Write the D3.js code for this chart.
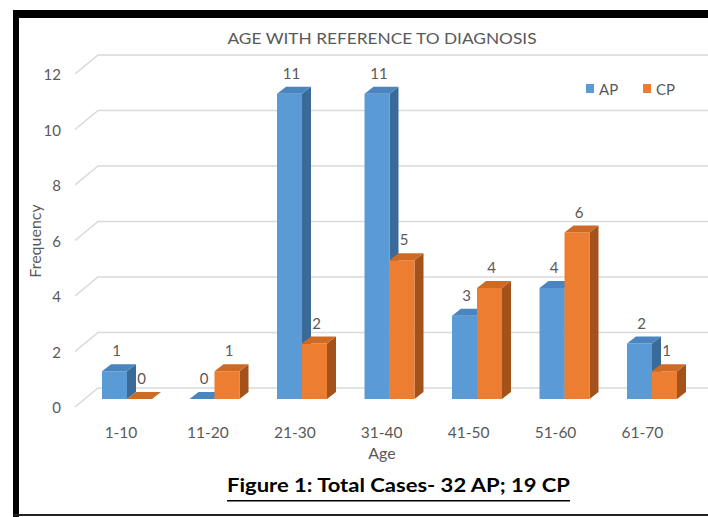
<!DOCTYPE html>
<html>
<head>
<meta charset="utf-8">
<script src="https://cdn.jsdelivr.net/npm/d3@7"></script>
<style>
  html, body { margin: 0; padding: 0; background: #fff; }
  svg { display: block; }
</style>
</head>
<body>
<svg id="chart" width="708" height="517"></svg>
<script>
// Age groups and case counts per diagnosis
const categories = ["1-10", "11-20", "21-30", "31-40", "41-50", "51-60", "61-70"];
const apValues = [1, 0, 11, 11, 3, 4, 2];
const cpValues = [0, 1, 2, 5, 4, 6, 1];
const seriesNames = ["AP", "CP"];
const yTicks = [0, 2, 4, 6, 8, 10, 12];

const W = 708, H = 517;
const FONT = "Lato, 'Open Sans', sans-serif";
const GRAY = "#595959";

const palette = {
  AP: { front: "#5B9BD5", top: "#4A85C0", side: "#3A6A98" },
  CP: { front: "#ED7D31", top: "#CF6A24", side: "#A4521B" }
};

const svg = d3.select("#chart");

// Frame around the figure
svg.append("rect").attr("x", 0).attr("y", 0).attr("width", W).attr("height", H).attr("fill", "#fff");
svg.append("rect").attr("x", 13).attr("y", 10).attr("width", W - 13).attr("height", 8).attr("fill", "#000");
svg.append("rect").attr("x", 13).attr("y", 10).attr("width", 6).attr("height", H - 10).attr("fill", "#000");
svg.append("rect").attr("x", 13).attr("y", 514).attr("width", W - 13).attr("height", 2).attr("fill", "#222");

// Scales
const x = d3.scaleBand().domain(categories).range([83.25, 695.75])
  .paddingInner(0.4286).paddingOuter(0.2143);
const xs = d3.scaleBand().domain(seriesNames).range([0, x.bandwidth()]);
const y = d3.scaleLinear().domain([0, 12]).range([399, 399 - 12 * 27.75]);

// 3D depth offset of the bars and back wall
const DX = 9, DY = -7, WALL = 11;

// Gridlines: short diagonal on the side wall, then across the back wall
const grid = svg.append("g");
yTicks.forEach(t => {
  const yb = y(t) - WALL;
  grid.append("path")
    .attr("d", `M75,${yb + 19}L98,${yb}L${W},${yb}`)
    .attr("fill", "none").attr("stroke", "#d9d9d9").attr("stroke-width", 1.5);
});

// Y tick labels
svg.append("g").selectAll("text").data(yTicks).join("text")
  .attr("x", 61).attr("y", d => y(d) + 8)
  .attr("text-anchor", "end").attr("dominant-baseline", "central")
  .attr("font-family", FONT).attr("font-size", 15).attr("fill", GRAY)
  .text(d => d);

// Bars
const rows = categories.map((c, i) => ({ cat: c, AP: apValues[i], CP: cpValues[i] }));
const barsG = svg.append("g");
rows.forEach(r => {
  seriesNames.forEach(s => {
    const v = r[s];
    const x0 = x(r.cat) + xs(s);
    const w = xs.bandwidth();
    const yt = y(v), yb = y(0);
    const col = palette[s];
    const g = barsG.append("g");
    // side face
    g.append("path")
      .attr("d", `M${x0 + w},${yt}L${x0 + w + DX},${yt + DY}L${x0 + w + DX},${yb + DY}L${x0 + w},${yb}Z`)
      .attr("fill", col.side);
    // front face
    g.append("rect").attr("x", x0).attr("y", yt).attr("width", w).attr("height", yb - yt)
      .attr("fill", col.front);
    // top face
    g.append("path")
      .attr("d", `M${x0},${yt}L${x0 + DX},${yt + DY}L${x0 + w + DX},${yt + DY}L${x0 + w},${yt}Z`)
      .attr("fill", col.top);
  });
});

// Value labels
const labelsG = svg.append("g");
rows.forEach(r => {
  seriesNames.forEach(s => {
    const v = r[s];
    const cx = x(r.cat) + xs(s) + xs.bandwidth() / 2 + 2;
    labelsG.append("text")
      .attr("x", cx).attr("y", y(v) - 21)
      .attr("text-anchor", "middle").attr("dominant-baseline", "central")
      .attr("font-family", FONT).attr("font-size", 15).attr("fill", GRAY)
      .text(v);
  });
});

// Category labels along the floor
svg.append("g").selectAll("text").data(categories).join("text")
  .attr("x", (d, i) => x(d) + x.bandwidth() / 2 - 6 - i * 0.6)
  .attr("y", 432)
  .attr("text-anchor", "middle").attr("dominant-baseline", "central")
  .attr("font-family", FONT).attr("font-size", 15.5).attr("fill", GRAY)
  .text(d => d);

// Axis titles
svg.append("text").attr("x", 382).attr("y", 452)
  .attr("text-anchor", "middle").attr("dominant-baseline", "central")
  .attr("font-family", FONT).attr("font-size", 16).attr("fill", GRAY)
  .text("Age");
svg.append("text")
  .attr("transform", "translate(34,241) rotate(-90)")
  .attr("text-anchor", "middle").attr("dominant-baseline", "central")
  .attr("font-family", FONT).attr("font-size", 16).attr("fill", GRAY)
  .text("Frequency");

// Chart title
svg.append("text").attr("x", 382).attr("y", 38)
  .attr("text-anchor", "middle").attr("dominant-baseline", "central")
  .attr("font-family", FONT).attr("font-size", 15.5).attr("fill", GRAY)
  .attr("textLength", 309).attr("lengthAdjust", "spacingAndGlyphs")
  .text("AGE WITH REFERENCE TO DIAGNOSIS");

// Legend
const legendX = { AP: 586, CP: 643 };
seriesNames.forEach(s => {
  svg.append("rect").attr("x", legendX[s]).attr("y", 84).attr("width", 8).attr("height", 9)
    .attr("fill", palette[s].front);
  svg.append("text").attr("x", legendX[s] + 13).attr("y", 89)
    .attr("dominant-baseline", "central")
    .attr("font-family", FONT).attr("font-size", 15).attr("fill", GRAY)
    .text(s);
});

// Figure caption
svg.append("text").attr("x", 227).attr("y", 492)
  .attr("font-family", FONT).attr("font-size", 18).attr("font-weight", "bold").attr("fill", "#000")
  .attr("textLength", 343).attr("lengthAdjust", "spacingAndGlyphs")
  .text("Figure 1: Total Cases- 32 AP; 19 CP");
svg.append("rect").attr("x", 227).attr("y", 500).attr("width", 343).attr("height", 1.5).attr("fill", "#000");
</script>
</body>
</html>
